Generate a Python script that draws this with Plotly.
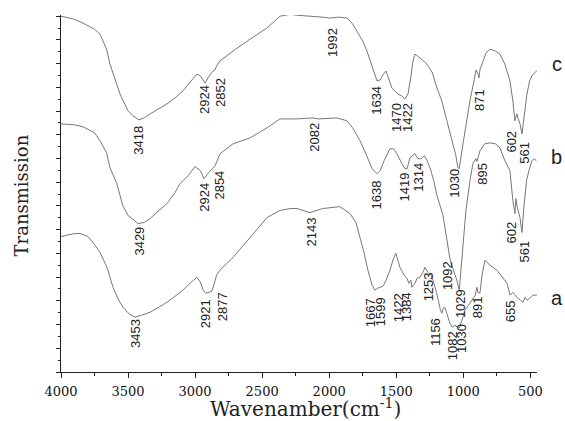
import plotly.graph_objects as go

# ---- data: wavenumber (cm-1) and offset transmission (arb. units) ----
wn_c = [4000, 3900, 3836, 3750, 3709, 3660, 3635, 3600, 3560, 3500, 3463, 3418, 3380, 3336, 3270, 3210, 3150, 3090,
        3030, 2986, 2960, 2940, 2926, 2900, 2866, 2852, 2840, 2815, 2717, 2590, 2464, 2367, 2292, 2240, 2121, 2050,
        1994, 1930, 1867, 1830, 1793, 1750, 1718, 1680, 1643, 1620, 1600, 1576, 1555, 1532, 1487, 1460, 1435, 1412,
        1390, 1375, 1360, 1340, 1323, 1271, 1230, 1196, 1160, 1122, 1077, 1055, 1040, 1030, 1002, 975, 950, 920,
        905, 890, 883, 875, 861, 830, 801, 760, 726, 690, 652, 630, 615, 605, 600, 590, 577, 562, 545, 525, 505,
        488, 470, 451]
tr_c = [15.0, 14.87, 14.71, 14.45, 14.24, 13.61, 12.98, 12.35, 11.72, 11.01, 10.80, 10.63, 10.71, 10.88, 11.09,
        11.30, 11.55, 11.85, 12.27, 12.56, 12.48, 12.31, 12.18, 12.44, 12.69, 12.73, 12.90, 13.11, 13.53, 14.03,
        14.50, 15.0, 15.08, 15.04, 15.0, 14.96, 14.92, 14.96, 14.92, 14.71, 14.37, 13.95, 13.53, 12.90, 12.27,
        12.31, 12.52, 12.69, 12.35, 11.97, 11.72, 11.64, 11.51, 11.72, 12.48, 13.11, 13.40, 13.32, 13.24, 12.98,
        12.61, 11.97, 11.43, 10.59, 9.62, 9.12, 8.61, 8.57, 9.62, 10.59, 11.43, 12.27, 12.73, 12.56, 12.40, 12.75,
        12.98, 13.45, 13.61, 13.53, 13.40, 12.98, 12.27, 11.43, 10.59, 10.80, 10.88, 10.67, 10.46, 10.04, 10.80,
        11.72, 12.27, 12.48, 12.61, 12.69]

wn_b = [4000, 3900, 3836, 3750, 3709, 3660, 3635, 3583, 3540, 3500, 3426, 3380, 3336, 3270, 3210, 3150, 3113, 3050,
        3001, 2960, 2934, 2900, 2866, 2850, 2815, 2717, 2590, 2464, 2367, 2240, 2121, 2082, 1942, 1867, 1820, 1770,
        1720, 1680, 1643, 1620, 1590, 1547, 1520, 1495, 1457, 1435, 1419, 1397, 1360, 1338, 1314, 1290, 1270, 1248,
        1220, 1196, 1151, 1114, 1100, 1085, 1048, 1030, 1010, 980, 950, 928, 905, 898, 890, 875, 840, 801, 760,
        726, 690, 652, 630, 615, 607, 600, 577, 562, 550, 540, 528, 510, 488, 470, 455]
tr_b = [10.46, 10.42, 10.34, 10.08, 9.75, 9.24, 8.61, 7.94, 7.02, 6.60, 6.26, 6.30, 6.47, 6.81, 7.10, 7.56, 7.94,
        8.28, 8.66, 8.49, 8.15, 8.40, 8.61, 8.70, 9.20, 9.62, 9.87, 10.29, 10.67, 10.67, 10.71, 10.67, 10.71, 10.59,
        10.25, 9.75, 9.12, 8.57, 8.36, 8.49, 8.91, 9.41, 9.41, 9.20, 8.78, 8.57, 8.57, 9.03, 9.20, 8.99, 8.99, 9.12,
        8.91, 8.61, 8.07, 7.44, 6.60, 5.13, 4.79, 4.50, 3.87, 3.45, 4.71, 6.81, 8.07, 8.78, 8.99, 8.87, 9.03, 9.33,
        9.62, 9.66, 9.62, 9.45, 8.91, 8.49, 7.23, 6.68, 7.31, 7.02, 6.51, 5.88, 6.81, 7.52, 8.07, 8.49, 8.91, 8.99,
        8.91]

wn_a = [4000, 3950, 3900, 3858, 3800, 3761, 3709, 3657, 3612, 3570, 3538, 3490, 3448, 3400, 3336, 3270, 3210, 3150,
        3090, 3030, 2986, 2960, 2940, 2921, 2900, 2877, 2860, 2840, 2815, 2717, 2590, 2464, 2367, 2292, 2240, 2143,
        2050, 1920, 1845, 1800, 1770, 1740, 1711, 1680, 1659, 1640, 1620, 1599, 1575, 1547, 1520, 1502, 1472, 1440,
        1420, 1405, 1390, 1384, 1360, 1345, 1323, 1300, 1286, 1263, 1240, 1226, 1200, 1189, 1170, 1159, 1150, 1137,
        1120, 1100, 1082, 1062, 1045, 1030, 1010, 987, 960, 935, 910, 898, 891, 876, 860, 838, 800, 749, 700, 674,
        660, 652, 630, 600, 575, 555, 540, 525, 503, 480, 451]
tr_a = [5.71, 5.76, 5.84, 5.84, 5.71, 5.46, 5.04, 4.41, 3.57, 3.03, 2.73, 2.44, 2.31, 2.39, 2.52, 2.73, 2.94, 3.19,
        3.45, 3.78, 3.99, 3.78, 3.45, 3.32, 3.36, 3.40, 3.66, 4.08, 4.29, 4.83, 5.67, 6.51, 6.81, 6.89, 6.89, 6.72,
        6.89, 6.97, 6.68, 6.30, 5.67, 5.04, 4.29, 3.66, 3.45, 3.53, 3.57, 3.61, 3.87, 4.29, 4.79, 5.00, 4.41, 4.08,
        3.95, 3.74, 3.87, 3.57, 3.74, 3.95, 3.99, 4.20, 4.41, 4.20, 4.08, 3.87, 3.36, 3.03, 2.61, 2.48, 2.69, 2.73,
        2.39, 2.06, 1.89, 1.97, 1.89, 1.85, 2.18, 2.61, 2.82, 3.03, 3.24, 3.57, 3.36, 3.32, 4.08, 4.71, 4.50, 4.29,
        3.95, 3.74, 3.45, 3.24, 3.36, 3.15, 3.03, 2.94, 3.15, 3.03, 3.11, 3.24, 3.24]

# peak labels: (text, x in cm-1, y in arb. units)
peak_labels_c = [("3418", 3418, 9.75), ("2924", 2926, 11.47), ("2852", 2814, 11.76), ("1992", 1979, 13.91),
                 ("1634", 1644, 11.47), ("1470", 1494, 10.71), ("1422", 1412, 10.71), ("1030", 1062, 7.98),
                 ("871", 875, 11.47), ("602", 637, 9.71), ("561", 540, 9.24)]
peak_labels_b = [("3429", 3418, 5.50), ("2924", 2926, 7.35), ("2854", 2814, 7.86), ("2082", 2106, 9.92),
                 ("1638", 1644, 7.48), ("1419", 1435, 7.82), ("1314", 1330, 8.19), ("1092", 1122, 4.08),
                 ("1029", 1025, 2.90), ("895", 853, 8.36), ("602", 637, 5.88), ("561", 540, 5.08)]
peak_labels_a = [("3453", 3448, 1.60), ("2921", 2926, 2.44), ("2877", 2799, 2.73), ("2143", 2128, 5.88),
                 ("1667", 1696, 2.52), ("1599", 1621, 2.56), ("1422", 1487, 2.73), ("1384", 1427, 2.73),
                 ("1253", 1263, 3.61), ("1156", 1211, 1.68), ("1082", 1084, 1.13), ("1030", 1017, 1.43),
                 ("891", 898, 2.73), ("655", 652, 2.56)]

curve_names = ["a", "b", "c"]
curve_name_y = [3.10, 9.08, 12.98]

x_ticks = [4000, 3500, 3000, 2500, 2000, 1500, 1000, 500]

fig = go.Figure()
line_color = "#777777"
for wn, tr in [(wn_a, tr_a), (wn_b, tr_b), (wn_c, tr_c)]:
    fig.add_trace(go.Scatter(x=wn, y=tr, mode="lines", line=dict(color=line_color, width=1),
                             showlegend=False, hoverinfo="skip"))

annots = []
for lst in (peak_labels_c, peak_labels_b, peak_labels_a):
    for txt, xv, yv in lst:
        annots.append(dict(x=xv, y=yv, xref="x", yref="y", text=txt, showarrow=False, textangle=-90,
                           xanchor="center", yanchor="middle",
                           font=dict(family="Liberation Sans, Arial", size=13, color="#222")))
for nm, yv in zip(curve_names, curve_name_y):
    annots.append(dict(x=1.042, y=yv, xref="paper", yref="y", text=nm, showarrow=False,
                       xanchor="center", yanchor="middle",
                       font=dict(family="Liberation Sans, Arial", size=20, color="#222")))
annots.append(dict(x=-0.083, y=0.496, xref="paper", yref="paper", text="Transmission", showarrow=False,
                   xanchor="center", yanchor="middle",
                   textangle=-90, font=dict(family="DejaVu Serif", size=18, color="#222")))
annots.append(dict(x=0.513, y=-0.102, xref="paper", yref="paper", text="Wavenamber(cm<sup>-1</sup>)",
                   xanchor="center", yanchor="middle",
                   showarrow=False, font=dict(family="DejaVu Serif", size=20, color="#222")))

fig.update_layout(
    width=565, height=421,
    margin=dict(l=61, r=28, t=15, b=49),
    paper_bgcolor="white", plot_bgcolor="white",
    annotations=annots,
    xaxis=dict(range=[4000, 450], tickvals=x_ticks, ticktext=[str(v) for v in x_ticks],
               ticks="outside", ticklen=5, tickcolor="#222", showline=True, linecolor="#222", linewidth=1.2,
               showgrid=False, zeroline=False, ticklabelstandoff=2,
               minor=dict(dtick=250, tick0=0, ticks="outside", ticklen=3, tickcolor="#222"),
               tickfont=dict(family="DejaVu Serif", size=13, color="#111")),
    yaxis=dict(range=[0, 15.05], tickvals=list(range(0, 16)), showticklabels=False,
               ticks="outside", ticklen=4, tickcolor="#222", showline=True, linecolor="#222", linewidth=1.2,
               showgrid=False, zeroline=False,
               minor=dict(dtick=0.5, ticks="outside", ticklen=2, tickcolor="#222")),
)

fig.write_html("out.html", config={"displayModeBar": False},
               post_script="document.body.style.margin='0';document.body.style.overflow='hidden';")
